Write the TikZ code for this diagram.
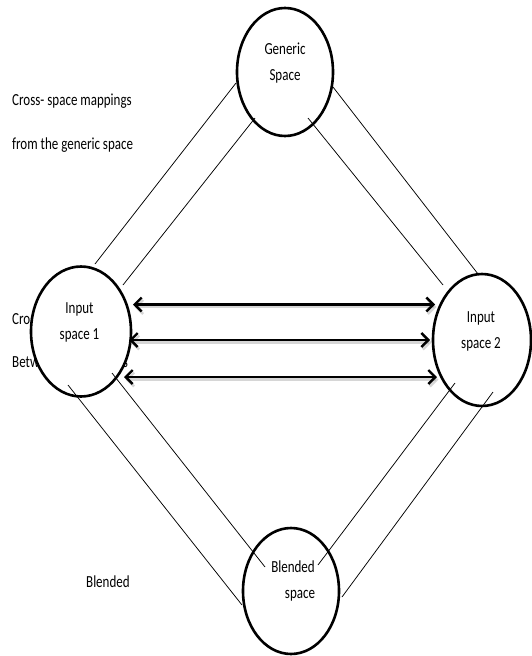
\documentclass[tikz,border=0pt]{standalone}
\usepackage{fontspec}
\setmainfont{Carlito}
\usetikzlibrary{shapes.geometric,arrows.meta}
\newcommand{\vstr}[1]{\scalebox{1}[1.3]{#1}}
\begin{document}
\begin{tikzpicture}[x=1pt,y=-1pt,
  spc/.style={ellipse,draw,line width=2.6pt,fill=white,inner sep=0pt},
  spctext/.style={align=center,font=\fontsize{13}{26}\selectfont,inner sep=0pt},
  lbl/.style={anchor=west,font=\fontsize{13}{15}\selectfont,inner sep=0pt},
  conn/.style={line width=0.75pt},
  arr/.style={line width=2.4pt,{Straight Barb[length=7pt,width=14pt]}-{Straight Barb[length=7pt,width=14pt]}},
  shad/.style={arr,draw=black!35,opacity=0.45}
]
\fill[white] (0,0) rectangle (532,656);
\useasboundingbox (0,0) rectangle (532,656);

% free labels
\node[lbl] (t1) at (12,101) {\vstr{Cross- space mappings}};
\node[lbl] (t2) at (12,145) {\vstr{from the generic space}};
\node[lbl] (t3) at (12,320) {\vstr{Cross- space mappings}};
\node[lbl] (t4) at (12,363) {\vstr{Between input spaces}};
\node[lbl] (t5) at (86,582) {\vstr{Blended}};

% spaces
\node[spc,minimum width=96pt,minimum height=128pt] (gen) at (285,72) {};
\node[spc,minimum width=100pt,minimum height=130pt] (in1) at (81,331.5) {};
\node[spc,minimum width=98pt,minimum height=132pt] (in2) at (482,340) {};
\node[spc,minimum width=96pt,minimum height=126pt] (bl) at (291,591) {};

\node[spctext] (gen-t) at ([yshift=8.5pt]gen.center) {\vstr{Generic}\\\vstr{Space}};
\node[spctext] (in1-t) at ([xshift=-1.5pt,yshift=9pt]in1.center) {\vstr{Input}\\\vstr{space 1}};
\node[spctext] (in2-t) at ([xshift=-1pt,yshift=8.5pt]in2.center) {\vstr{Input}\\\vstr{space 2}};
\node[spctext] (bl-t) at ([xshift=2pt,yshift=10.5pt]bl.center) {\vstr{Blended}\\\hspace*{14pt}\vstr{space}};

% connector end points
\coordinate (g1) at (236,83);   \coordinate (i1a) at (95,264);
\coordinate (g2) at (255,118);  \coordinate (i1b) at (123,285);
\coordinate (g3) at (333,87);   \coordinate (i2a) at (478,274);
\coordinate (g4) at (308,118);  \coordinate (i2b) at (443,285);
\coordinate (i1c) at (68,385);  \coordinate (b1) at (242,605);
\coordinate (i1d) at (112,373); \coordinate (b2) at (265,567);
\coordinate (i2c) at (455,383); \coordinate (b3) at (318,565);
\coordinate (i2d) at (493,392); \coordinate (b4) at (342,597);

\draw[conn] (g1) -- (i1a);
\draw[conn] (g2) -- (i1b);
\draw[conn] (g3) -- (i2a);
\draw[conn] (g4) -- (i2b);
\draw[conn] (i1c) -- (b1);
\draw[conn] (i1d) -- (b2);
\draw[conn] (i2c) -- (b3);
\draw[conn] (i2d) -- (b4);

% cross-space arrows
\coordinate (a1l) at (133,304.5); \coordinate (a1r) at (435,304.5);
\coordinate (a2l) at (129,340);   \coordinate (a2r) at (430,340);
\coordinate (a3l) at (124,377);   \coordinate (a3r) at (437,377);

\draw[shad] ([shift={(1.5,2.5)}]a1l) -- ([shift={(1.5,2.5)}]a1r);
\draw[shad] ([shift={(1.5,2.5)}]a2l) -- ([shift={(1.5,2.5)}]a2r);
\draw[shad] ([shift={(1.5,2.5)}]a3l) -- ([shift={(1.5,2.5)}]a3r);
\draw[arr] (a1l) -- (a1r);
\draw[arr] (a2l) -- (a2r);
\draw[arr] (a3l) -- (a3r);
\end{tikzpicture}
\end{document}
